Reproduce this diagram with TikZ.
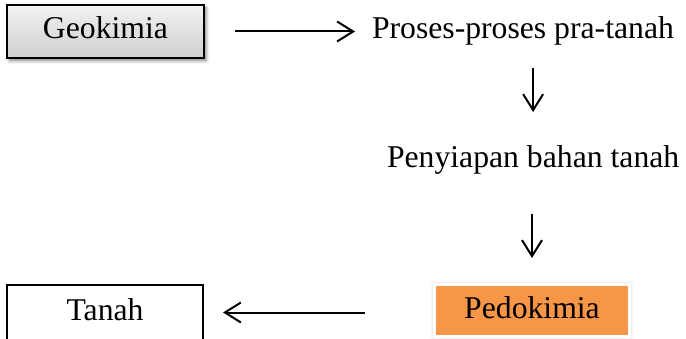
\documentclass[tikz,border=0pt]{standalone}
\usepackage{fontspec}
\setmainfont{Liberation Serif}
\usetikzlibrary{arrows.meta,shadows.blur}
\definecolor{pedoorange}{HTML}{F79646}
\begin{document}
\begin{tikzpicture}[x=1pt,y=1pt,
  every node/.style={font=\fontsize{31.7pt}{36pt}\selectfont, inner sep=0pt, outer sep=0pt,
                     text height=22pt, text depth=7pt},
  label text/.style={anchor=base west},
  geobox/.style={draw=black, line width=1.8pt, minimum width=197pt, minimum height=53pt,
                 top color=gray!10, bottom color=gray!38,
                 blur shadow={shadow xshift=2.5pt, shadow yshift=-3pt, shadow blur radius=3pt, shadow opacity=45}},
  plainbox/.style={draw=black, line width=1.8pt, minimum width=196pt, minimum height=55pt, fill=white},
  pedobox/.style={draw=white, line width=3pt, fill=pedoorange, minimum width=195pt, minimum height=52pt,
                  blur shadow={shadow xshift=0pt, shadow yshift=0pt, shadow blur radius=4pt, shadow opacity=30}},
  flow/.style={line width=2pt, -{Straight Barb[length=16pt, width=20pt, line width=2pt]}}
]
\useasboundingbox (0,0) rectangle (686,338);

\node[geobox]  (geo)   at (105.5,306.5) {Geokimia};
\node[label text] (proses) at (372,299) {Proses-proses pra-tanah};
\node[label text] (peny)   at (387,171) {Penyiapan bahan tanah};
\node[pedobox] (pedo)  at (532,27.5) {Pedokimia};
\node[plainbox] (tanah) at (105,25.5) {Tanah};

\draw[flow, shorten <=31pt, shorten >=17pt] (geo.east) -- (geo.east -| proses.west);
\draw[flow, shorten <=22pt, shorten >=33pt] (proses.south -| peny.north) -- (peny.north);
\draw[flow, shorten <=40pt, shorten >=26.5pt] (peny.south -| pedo.north) -- (pedo.north);
\draw[flow, shorten <=69.5pt, shorten >=20pt] (pedo.west |- tanah.east) -- (tanah.east);
\end{tikzpicture}
\end{document}
